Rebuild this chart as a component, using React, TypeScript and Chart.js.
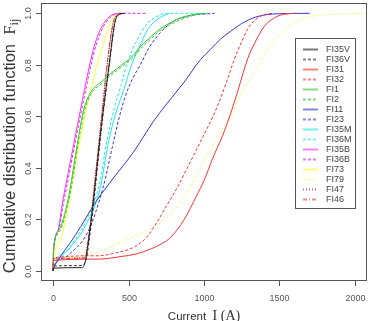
import React, { useEffect, useRef } from "react";
import { Chart, registerables } from "chart.js";
Chart.register(...registerables);

// ---- data (current I in A, cumulative distribution F) ----
const FI35V_I = [0, 3, 190, 205, 215, 235, 257, 285, 312, 340, 371, 392, 408, 425, 470];
const FI35V_F = [0, 0.01, 0.012, 0.02, 0.04, 0.12, 0.22, 0.37, 0.52, 0.66, 0.8, 0.9, 0.96, 0.99, 1.0];
const FI36V_I = [0, 3, 195, 210, 222, 242, 265, 292, 318, 345, 375, 396, 412, 430, 480];
const FI36V_F = [0, 0.018, 0.02, 0.03, 0.05, 0.13, 0.24, 0.39, 0.54, 0.67, 0.81, 0.91, 0.97, 0.995, 1.0];
const FI31_I = [0, 4, 300, 450, 550, 650, 720, 780, 870, 950, 1000, 1060, 1120, 1170, 1220, 1260, 1300, 1350, 1400, 1460, 1520, 1600];
const FI31_F = [0, 0.04, 0.045, 0.055, 0.065, 0.085, 0.105, 0.13, 0.2, 0.29, 0.35, 0.44, 0.52, 0.6, 0.69, 0.77, 0.84, 0.9, 0.95, 0.98, 0.995, 1.0];
const FI32_I = [0, 4, 300, 420, 530, 620, 700, 760, 820, 890, 950, 1010, 1060, 1110, 1165, 1200, 1250, 1290, 1340, 1400, 1460];
const FI32_F = [0, 0.05, 0.058, 0.07, 0.09, 0.13, 0.2, 0.26, 0.32, 0.4, 0.47, 0.54, 0.6, 0.67, 0.76, 0.82, 0.89, 0.94, 0.975, 0.995, 1.0];
const FI1_I = [0, 3, 40, 97, 130, 157, 180, 205, 246, 290, 323, 380, 445, 520, 578, 650, 711, 800, 888, 1020];
const FI1_F = [0, 0.08, 0.16, 0.27, 0.38, 0.48, 0.56, 0.63, 0.69, 0.72, 0.735, 0.765, 0.795, 0.83, 0.87, 0.91, 0.94, 0.97, 0.99, 1.0];
const FI2_I = [0, 3, 45, 100, 135, 160, 185, 210, 250, 295, 330, 385, 450, 525, 585, 655, 715, 805, 890, 980];
const FI2_F = [0, 0.075, 0.155, 0.265, 0.375, 0.475, 0.555, 0.625, 0.685, 0.715, 0.73, 0.76, 0.79, 0.825, 0.865, 0.905, 0.935, 0.965, 0.985, 1.0];
const FI11_I = [0, 5, 20, 150, 286, 400, 532, 665, 755, 865, 977, 1043, 1110, 1176, 1264, 1340, 1420, 1550, 1700];
const FI11_F = [0, 0.015, 0.03, 0.14, 0.27, 0.36, 0.46, 0.58, 0.65, 0.73, 0.82, 0.86, 0.9, 0.93, 0.965, 0.985, 0.995, 0.999, 1.0];
const FI23_I = [0, 10, 100, 230, 330, 400, 440, 480, 530, 578, 640, 711, 800, 900, 1070];
const FI23_F = [0, 0.02, 0.06, 0.15, 0.32, 0.5, 0.6, 0.68, 0.75, 0.8, 0.87, 0.925, 0.97, 0.99, 1.0];
const FI35M_I = [0, 10, 100, 220, 312, 367, 420, 467, 520, 580, 630, 700, 770];
const FI35M_F = [0, 0.02, 0.08, 0.18, 0.32, 0.5, 0.62, 0.7, 0.8, 0.88, 0.94, 0.98, 1.0];
const FI36M_I = [0, 10, 100, 215, 305, 355, 405, 450, 500, 560, 610, 680, 760, 1000];
const FI36M_F = [0, 0.025, 0.085, 0.19, 0.33, 0.5, 0.63, 0.72, 0.82, 0.9, 0.95, 0.985, 1.0, 1.0];
const FI35B_I = [0, 3, 30, 64, 100, 146, 200, 235, 267, 300, 335, 370, 410, 450];
const FI35B_F = [0, 0.08, 0.15, 0.27, 0.38, 0.52, 0.68, 0.78, 0.86, 0.92, 0.96, 0.985, 0.998, 1.0];
const FI36B_I = [0, 3, 32, 68, 105, 150, 205, 240, 272, 305, 340, 375, 415, 460, 620];
const FI36B_F = [0, 0.075, 0.145, 0.26, 0.37, 0.51, 0.67, 0.77, 0.85, 0.91, 0.955, 0.982, 0.997, 1.0, 1.0];
const FI73_I = [0, 4, 50, 107, 160, 210, 246, 290, 323, 370, 410, 450];
const FI73_F = [0, 0.04, 0.12, 0.27, 0.45, 0.6, 0.69, 0.8, 0.86, 0.95, 0.99, 1.0];
const FI79_I = [0, 4, 100, 240, 312, 450, 600, 700, 865, 950, 1043, 1110, 1176, 1260, 1353, 1420, 1486, 1560, 1640, 1820, 2100];
const FI79_F = [0, 0.03, 0.05, 0.065, 0.075, 0.11, 0.15, 0.18, 0.28, 0.37, 0.47, 0.54, 0.6, 0.7, 0.79, 0.86, 0.91, 0.95, 0.977, 0.995, 1.0];
const FI47_I = [0, 4, 200, 218, 230, 250, 275, 300, 330, 360, 385, 400, 420, 460];
const FI47_F = [0, 0.047, 0.05, 0.07, 0.11, 0.2, 0.34, 0.48, 0.65, 0.81, 0.92, 0.97, 0.995, 1.0];
const FI46_I = [0, 4, 205, 222, 235, 255, 280, 305, 335, 362, 388, 405, 425, 470];
const FI46_F = [0, 0.045, 0.048, 0.07, 0.12, 0.22, 0.36, 0.5, 0.67, 0.82, 0.93, 0.975, 0.995, 1.0];

const X_TICKS = [0, 500, 1000, 1500, 2000];
const Y_TICKS = [0, 0.2, 0.4, 0.6, 0.8, 1.0];
const Y_TICK_LABELS = ["0.0", "0.2", "0.4", "0.6", "0.8", "1.0"];

const SERIES = [
  { label: "FI35V", I: FI35V_I, F: FI35V_F, color: "#1e1e1e", dash: [] as number[] },
  { label: "FI36V", I: FI36V_I, F: FI36V_F, color: "#333333", dash: [3, 2] },
  { label: "FI31", I: FI31_I, F: FI31_F, color: "#ff3030", dash: [] },
  { label: "FI32", I: FI32_I, F: FI32_F, color: "#ff3030", dash: [3, 2] },
  { label: "FI1", I: FI1_I, F: FI1_F, color: "#30c830", dash: [] },
  { label: "FI2", I: FI2_I, F: FI2_F, color: "#30c830", dash: [3, 2] },
  { label: "FI11", I: FI11_I, F: FI11_F, color: "#3434d8", dash: [] },
  { label: "FI23", I: FI23_I, F: FI23_F, color: "#3434d8", dash: [3, 2] },
  { label: "FI35M", I: FI35M_I, F: FI35M_F, color: "#20e8e8", dash: [] },
  { label: "FI36M", I: FI36M_I, F: FI36M_F, color: "#20e8e8", dash: [3, 2] },
  { label: "FI35B", I: FI35B_I, F: FI35B_F, color: "#ff30ff", dash: [] },
  { label: "FI36B", I: FI36B_I, F: FI36B_F, color: "#d030d0", dash: [3, 2] },
  { label: "FI73", I: FI73_I, F: FI73_F, color: "#ffff30", dash: [] },
  { label: "FI79", I: FI79_I, F: FI79_F, color: "#f8f880", dash: [3, 2] },
  { label: "FI47", I: FI47_I, F: FI47_F, color: "#c00000", dash: [1, 1.5] },
  { label: "FI46", I: FI46_I, F: FI46_F, color: "#e04040", dash: [4, 1.5, 1, 1.5] },
];

const SANS = '"Liberation Sans", Arial, sans-serif';
const SERIF = '"Liberation Serif", "Times New Roman", serif';

function legendSample(ctx: CanvasRenderingContext2D, x0: number, x1: number, y: number, color: string, dash: number[]) {
  ctx.save();
  ctx.fillStyle = color;
  ctx.globalAlpha = 0.6;
  if (!dash.length) {
    ctx.fillRect(x0, y, x1 - x0, 2);
    ctx.restore();
    return;
  }
  let x = x0;
  let k = 0;
  while (x < x1) {
    const seg = Math.max(1, Math.round(dash[k % dash.length]));
    if (k % 2 === 0) ctx.fillRect(x, y, Math.min(seg, x1 - x), 2);
    x += Math.max(1, Math.round(dash[k % dash.length] + (k % 2 ? 0.4 : 0)));
    k++;
  }
  ctx.restore();
}

const decorPlugin = {
  id: "decor",
  afterDraw(chart: any) {
    const ctx = chart.ctx as CanvasRenderingContext2D;
    const { left, top, right, bottom } = chart.chartArea;
    const xs = chart.scales.x;
    const ys = chart.scales.y;
    ctx.save();
    ctx.setLineDash([]);
    ctx.strokeStyle = "#555";
    ctx.lineWidth = 1;
    ctx.strokeRect(left + 0.5, top + 0.5, right - left - 1, bottom - top - 1);

    // x ticks
    ctx.fillStyle = "#555";
    ctx.font = `9px ${SANS}`;
    ctx.textAlign = "center";
    ctx.textBaseline = "alphabetic";
    X_TICKS.forEach((v) => {
      const px = Math.round(xs.getPixelForValue(v)) + 0.5;
      ctx.beginPath();
      ctx.moveTo(px, bottom);
      ctx.lineTo(px, bottom + 5);
      ctx.stroke();
      ctx.fillText(String(v), px, 301);
    });
    // y ticks
    Y_TICKS.forEach((v, i) => {
      const py = Math.round(ys.getPixelForValue(v)) + 0.5;
      ctx.beginPath();
      ctx.moveTo(left, py);
      ctx.lineTo(left - 5, py);
      ctx.stroke();
      ctx.save();
      ctx.translate(31, py);
      ctx.rotate(-Math.PI / 2);
      ctx.fillText(Y_TICK_LABELS[i], 0, 0);
      ctx.restore();
    });

    // x title
    ctx.fillStyle = "#333";
    const t1 = "Current  ";
    ctx.font = `11.5px ${SANS}`;
    const w1 = ctx.measureText(t1).width;
    ctx.font = `14px ${SERIF}`;
    const t2 = "I (A)";
    const w2 = ctx.measureText(t2).width;
    const cx = (left + right) / 2;
    const x0 = cx - (w1 + w2) / 2;
    ctx.textAlign = "left";
    ctx.font = `11.5px ${SANS}`;
    ctx.fillText(t1, x0, 320);
    ctx.font = `14px ${SERIF}`;
    ctx.fillText(t2, x0 + w1, 320);

    // y title
    const s1 = "Cumulative distribution function  ";
    ctx.font = `16.5px ${SANS}`;
    const sw1 = ctx.measureText(s1).width;
    ctx.font = `17px ${SERIF}`;
    const sw2 = ctx.measureText("F").width;
    ctx.font = `12px ${SERIF}`;
    const sw3 = ctx.measureText("ij").width;
    const cy = (top + bottom) / 2 + 4;
    ctx.save();
    ctx.translate(15, cy);
    ctx.rotate(-Math.PI / 2);
    const sx = -(sw1 + sw2 + sw3) / 2;
    ctx.font = `16.5px ${SANS}`;
    ctx.fillText(s1, sx, 0);
    ctx.font = `17px ${SERIF}`;
    ctx.fillText("F", sx + sw1, 0);
    ctx.font = `12px ${SERIF}`;
    ctx.fillText("ij", sx + sw1 + sw2, 3);
    ctx.restore();

    // legend
    const lx = 295, ly = 38, lw = 60, lh = 170;
    ctx.fillStyle = "#fff";
    ctx.fillRect(lx, ly, lw, lh);
    ctx.strokeStyle = "#555";
    ctx.lineWidth = 1;
    ctx.strokeRect(lx + 0.5, ly + 0.5, lw, lh);
    ctx.font = `9px ${SANS}`;
    ctx.textBaseline = "middle";
    for (let i = 0; i < SERIES.length; i++) {
      const s = SERIES[i];
      const yy = 48.5 + i * 10;
      legendSample(ctx, 303, 318, yy, s.color, s.dash);
      ctx.fillStyle = "#444";
      ctx.fillText(s.label, 326, yy + 1.5);
    }
    ctx.restore();
  },
};

export default function App() {
  const ref = useRef<HTMLCanvasElement | null>(null);
  useEffect(() => {
    document.body.style.margin = "0";
    const canvas = ref.current;
    if (!canvas) return;
    const chart = new Chart(canvas, {
      type: "line",
      data: {
        datasets: SERIES.map((s) => ({
          label: s.label,
          data: s.I.map((x, k) => ({ x, y: s.F[k] })),
          borderColor: s.color,
          borderWidth: 1,
          borderDash: s.dash,
          pointRadius: 0,
          fill: false,
          cubicInterpolationMode: "monotone" as const,
        })),
      },
      options: {
        animation: false,
        responsive: false,
        devicePixelRatio: 1,
        layout: { padding: { left: 41, top: 3, right: 3, bottom: 40 } },
        plugins: { legend: { display: false }, tooltip: { enabled: false } },
        scales: {
          x: { type: "linear", min: -80, max: 2080, display: false },
          y: { type: "linear", min: -0.04, max: 1.04, display: false },
        },
      },
      plugins: [decorPlugin],
    });
    return () => chart.destroy();
  }, []);
  return (
    <div style={{ width: 370, height: 321 }}>
      <canvas ref={ref} width={370} height={321} style={{ width: 370, height: 321, display: "block" }} />
    </div>
  );
}
